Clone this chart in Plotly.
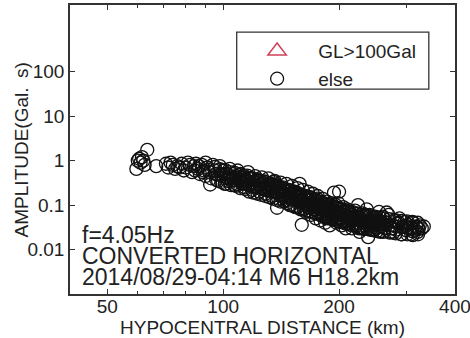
import plotly.graph_objects as go
import math

# Hypocentral distance (km) and amplitude (Gal.s)
distance = [
    60, 61, 60.5, 62, 59.5, 61.5, 63.5, 62.5, 67,
    74, 76, 78, 79, 80, 81, 83, 84, 85, 86, 87, 88, 89, 90, 90,
    91, 92, 93, 94, 95, 96, 97, 98, 99, 100, 101, 102, 103, 104, 105, 106, 107, 108, 109, 110, 92.5,
    111, 112, 113, 114, 115, 116, 117, 118, 119, 120, 121, 122, 123, 124, 125, 126, 127, 128, 129, 130,
    131, 132, 133, 134, 135, 136, 137, 138, 138, 139, 140,
    141, 142, 143, 144, 145, 146, 147, 148, 149, 150, 151, 152, 153, 154, 155, 156, 157, 158, 159, 160,
    160, 161, 162, 163, 164, 165, 166, 167, 168, 169, 170,
    171, 172, 173, 174, 175, 176, 177, 178, 179, 180, 181, 182, 183, 184, 185, 186, 187, 188, 189, 190,
    191, 192, 193, 194, 195, 196, 197, 198, 199, 200, 201, 202, 203, 204, 205, 206, 207, 208, 209, 210,
    212, 214, 216, 218, 220, 222, 224, 226, 228, 230, 232, 234, 236, 238, 238, 240, 242, 244, 246, 248,
    250, 252, 254, 256, 258, 224,
    260, 263, 266, 269, 272, 275, 278, 281, 284, 287, 290, 293, 296, 299, 302, 305, 308, 311, 314, 317,
    320, 324, 328, 332, 266, 277,
    100.5, 102.5, 104.5, 106.5, 108.5, 110.5, 112.5, 114.5, 116.5, 118.5, 120.5, 122.5, 124.5, 126.5,
    128.5, 130.5, 132.5, 134.5, 136.5, 138.5,
    140.5, 142.5, 144.5, 146.5, 148.5, 150.5, 152.5, 154.5, 156.5, 158.5, 160.5, 162.5, 164.5, 166.5,
    168.5, 170.5, 172.5, 174.5, 176.5, 178.5, 180.5, 182.5, 184.5, 186.5, 188.5, 190.5, 192.5, 194.5,
    196.5, 198.5,
    200.5, 203.5, 206.5, 209.5, 212.5, 215.5, 218.5, 221.5, 224.5, 227.5, 230.5, 233.5, 236.5, 239.5,
    242.5, 245.5, 248.5, 251.5, 254.5, 257.5,
    115.5, 125.5, 135.5, 145.5, 155.5, 165.5, 175.5, 185.5, 195.5, 205.5, 215.5, 225.5, 235.5, 245.5,
    262, 274, 286, 298, 310, 322,
    71, 72, 73, 75, 77, 82, 84.5, 86.5, 88.5, 91.5,
    95.2, 95.6, 95.9, 98.1, 98.4, 98.8, 101.2, 101.6, 101.9, 104.1, 104.3, 104.8,
    107.2, 107.5, 107.9, 110.1, 110.4, 110.8, 113.2, 113.6, 113.9, 116.1, 116.4, 116.8,
    119.2, 119.5, 119.9, 122.1, 122.4, 122.8, 125.2, 125.6, 125.9, 128.1, 128.4, 128.8,
    131.2, 131.5, 131.9, 134.1, 134.4, 134.8, 137.2, 137.6, 137.9, 140.1, 140.4, 140.8,
    143.2, 143.5, 143.9, 146.1, 146.4, 146.8, 149.2, 149.6, 149.9, 152.1, 152.4, 152.8,
    155.2, 155.5, 155.9, 158.1, 158.4, 158.8, 161.2, 161.6, 161.9, 164.1, 164.4, 164.8,
    167.2, 167.5, 167.9, 170.1, 170.4, 170.8, 173.2, 173.6, 173.9, 176.1, 176.4, 176.8,
    179.2, 179.5, 179.9, 182.1, 182.4, 182.8, 185.2, 185.6, 185.9, 188.1, 188.4, 188.8,
    191.2, 191.5, 191.9, 194.1, 194.4, 194.8, 197.2, 197.6, 197.9, 200.1, 200.4, 200.8,
    204.2, 204.5, 204.9, 208.1, 208.4, 208.8, 212.2, 212.6, 212.9, 216.1, 216.4, 216.8,
    220.2, 220.5, 220.9, 224.1, 224.4, 224.8, 228.2, 228.6, 228.9, 232.1, 232.4, 232.8,
    236.2, 236.5, 236.9, 240.1, 240.4, 240.8, 245.2, 245.6, 245.9, 250.1, 250.4, 250.8,
    255.2, 255.5, 255.9, 260.1, 260.4, 260.8, 270.2, 270.6, 270.9, 280.1, 280.4, 280.8,
    290.2, 290.5, 290.9, 300.1, 300.4, 300.8, 310.2, 310.6, 310.9, 320.1, 320.4, 320.8,
]
amplitude = [
    1.0, 0.9, 1.1, 1.0, 0.65, 1.2, 1.75, 0.8, 0.75,
    0.8, 0.75, 0.85, 0.6, 0.7, 0.9, 0.55, 0.75, 0.85, 0.65, 0.5, 0.8, 0.6, 0.9, 0.45,
    0.7, 0.55, 0.4, 0.8, 0.6, 0.5, 0.35, 0.75, 0.45, 0.6, 0.3, 0.5, 0.4, 0.65, 0.35, 0.5, 0.28, 0.45, 0.6, 0.38, 0.29,
    0.5, 0.3, 0.42, 0.25, 0.35, 0.55, 0.28, 0.4, 0.22, 0.33, 0.45, 0.26, 0.38, 0.2, 0.3, 0.42, 0.24, 0.34, 0.18, 0.28,
    0.4, 0.22, 0.3, 0.16, 0.25, 0.35, 0.2, 0.087, 0.28, 0.14, 0.22,
    0.32, 0.17, 0.25, 0.12, 0.2, 0.3, 0.15, 0.22, 0.1, 0.18, 0.27, 0.13, 0.2, 0.09, 0.16, 0.24, 0.12, 0.3, 0.08, 0.036,
    0.14, 0.22, 0.1, 0.16, 0.07, 0.13, 0.2, 0.09, 0.15, 0.06, 0.11,
    0.18, 0.08, 0.13, 0.05, 0.1, 0.16, 0.07, 0.12, 0.045, 0.09, 0.14, 0.06, 0.1, 0.04, 0.08, 0.12, 0.055, 0.09, 0.035, 0.07,
    0.11, 0.05, 0.08, 0.19, 0.06, 0.1, 0.04, 0.07, 0.11, 0.2, 0.05, 0.08, 0.035, 0.06, 0.09, 0.045, 0.07, 0.03, 0.055, 0.08,
    0.04, 0.065, 0.03, 0.05, 0.075, 0.035, 0.055, 0.025, 0.045, 0.065, 0.03, 0.05, 0.08, 0.019, 0.04, 0.06, 0.028, 0.045, 0.035, 0.055,
    0.03, 0.045, 0.07, 0.025, 0.04, 0.1,
    0.055, 0.03, 0.04, 0.06, 0.025, 0.035, 0.045, 0.028, 0.038, 0.05, 0.022, 0.032, 0.042, 0.027, 0.036, 0.03, 0.022, 0.04, 0.028, 0.033,
    0.025, 0.035, 0.03, 0.033, 0.068, 0.024,
    0.5, 0.35, 0.45, 0.4, 0.3, 0.42, 0.36, 0.3, 0.4, 0.3, 0.25, 0.35, 0.28, 0.32,
    0.25, 0.3, 0.26, 0.22, 0.28, 0.2,
    0.25, 0.2, 0.16, 0.22, 0.18, 0.14, 0.2, 0.15, 0.13, 0.16, 0.12, 0.14, 0.1, 0.13,
    0.11, 0.09, 0.12, 0.08, 0.1, 0.09, 0.07, 0.09, 0.065, 0.08, 0.06, 0.075, 0.065, 0.055,
    0.07, 0.05,
    0.065, 0.05, 0.06, 0.045, 0.055, 0.045, 0.038, 0.05, 0.04, 0.05, 0.04, 0.035, 0.045, 0.036,
    0.04, 0.05, 0.038, 0.035, 0.042, 0.033,
    0.46, 0.23, 0.33, 0.13, 0.19, 0.1, 0.14, 0.05, 0.09, 0.04, 0.06, 0.03, 0.06, 0.028,
    0.042, 0.03, 0.04, 0.034, 0.026, 0.029,
    0.85, 0.7, 0.9, 0.65, 0.7, 0.8, 0.6, 0.75, 0.55, 0.62,
    0.72, 0.5, 0.37, 0.64, 0.48, 0.33, 0.61, 0.42, 0.3, 0.55, 0.41, 0.28,
    0.53, 0.36, 0.27, 0.48, 0.35, 0.24, 0.46, 0.31, 0.23, 0.41, 0.3, 0.2,
    0.4, 0.27, 0.19, 0.37, 0.26, 0.18, 0.34, 0.25, 0.17, 0.33, 0.22, 0.16,
    0.3, 0.21, 0.15, 0.29, 0.2, 0.14, 0.26, 0.19, 0.13, 0.25, 0.17, 0.12,
    0.23, 0.17, 0.12, 0.22, 0.15, 0.11, 0.21, 0.15, 0.1, 0.19, 0.14, 0.095,
    0.18, 0.13, 0.09, 0.17, 0.12, 0.085, 0.165, 0.12, 0.08, 0.15, 0.11, 0.075,
    0.15, 0.105, 0.072, 0.14, 0.1, 0.068, 0.13, 0.094, 0.065, 0.12, 0.09, 0.062,
    0.12, 0.085, 0.058, 0.11, 0.08, 0.055, 0.105, 0.076, 0.052, 0.1, 0.073, 0.05,
    0.095, 0.07, 0.048, 0.092, 0.066, 0.046, 0.088, 0.064, 0.044, 0.085, 0.061, 0.042,
    0.08, 0.058, 0.041, 0.076, 0.055, 0.038, 0.072, 0.052, 0.036, 0.07, 0.05, 0.035,
    0.066, 0.048, 0.033, 0.064, 0.046, 0.032, 0.061, 0.044, 0.03, 0.06, 0.043, 0.029,
    0.058, 0.042, 0.029, 0.056, 0.041, 0.028, 0.055, 0.04, 0.027, 0.053, 0.039, 0.026,
    0.052, 0.038, 0.026, 0.051, 0.037, 0.025, 0.048, 0.035, 0.024, 0.046, 0.033, 0.023,
    0.044, 0.032, 0.022, 0.043, 0.031, 0.022, 0.042, 0.03, 0.021, 0.04, 0.031, 0.022,
]

x_ticks = [50, 100, 200, 400]
x_tick_labels = ["50", "100", "200", "400"]
y_ticks = [0.01, 0.1, 1, 10, 100]
y_tick_labels = ["0.01", "0.1", "1", "10", "100"]
x_limits = [40, 400]
y_limits = [0.001, 3162]

notes = ["f=4.05Hz", "CONVERTED HORIZONTAL", "2014/08/29-04:14 M6 H18.2km"]
y_title = "AMPLITUDE(Gal.\u2002s)"
x_title = "HYPOCENTRAL DISTANCE (km)"

FONT = "Liberation Sans, Arial, sans-serif"
PAD = "\u00a0" * 4

fig = go.Figure()
fig.add_trace(go.Scatter(
    x=[None], y=[None], mode="markers", name=PAD + "GL>100Gal",
    marker=dict(symbol="triangle-up-open", size=16, color="#d0405a",
                line=dict(color="#d0405a", width=1.5)),
))
fig.add_trace(go.Scatter(
    x=distance, y=amplitude, mode="markers", name=PAD + "else",
    marker=dict(symbol="circle-open", size=13, color="#111111",
                line=dict(color="#111111", width=1.3)),
))

for i, t in enumerate(notes):
    fig.add_annotation(
        text=t, xref="paper", yref="paper", x=0.026, y=0.204 - i * 0.073,
        xanchor="left", yanchor="middle", showarrow=False,
        font=dict(family=FONT, size=23, color="#222222"),
    )

fig.add_annotation(
    text=y_title, xref="paper", yref="paper", x=-0.125, y=0.5,
    xanchor="center", yanchor="middle", textangle=-90, showarrow=False,
    font=dict(family=FONT, size=19, color="#222222"),
)

fig.add_shape(type="rect", xref="paper", yref="paper",
              x0=0.433, x1=0.932, y0=0.709, y1=0.906,
              line=dict(color="#333333", width=1.3), fillcolor="rgba(0,0,0,0)")

fig.update_layout(
    width=470, height=338,
    margin=dict(l=70, r=15, t=5, b=44),
    plot_bgcolor="white", paper_bgcolor="white",
    font=dict(family=FONT, size=19, color="#222222"),
    showlegend=True,
    legend=dict(x=0.486, y=0.906, xanchor="left", yanchor="top",
                bgcolor="rgba(0,0,0,0)", borderwidth=0,
                font=dict(family=FONT, size=19, color="#222222"),
                itemsizing="trace"),
    xaxis=dict(
        type="log", range=[math.log10(x_limits[0]), math.log10(x_limits[1]) + 1e-4],
        tickvals=x_ticks, ticktext=x_tick_labels,
        ticks="inside", ticklen=5, tickcolor="#333333",
        ticklabeloverflow="allow", ticklabelstandoff=-6,
        minor=dict(ticks="inside", ticklen=3, tickcolor="#333333", tickvals=[60, 70, 80, 90, 300]),
        showline=True, linecolor="#333333", linewidth=1.5, mirror="ticks",
        showgrid=False, zeroline=False, automargin=False,
        title=dict(text=x_title, standoff=2,
                   font=dict(family=FONT, size=19, color="#222222")),
        tickfont=dict(family=FONT, size=19, color="#222222"),
    ),
    yaxis=dict(
        type="log", range=[math.log10(y_limits[0]), math.log10(y_limits[1])],
        tickvals=y_ticks, ticktext=y_tick_labels,
        ticks="inside", ticklen=5, tickcolor="#333333",
        showline=True, linecolor="#333333", linewidth=1.5, mirror="ticks",
        showgrid=False, zeroline=False, automargin=False,
        tickfont=dict(family=FONT, size=19, color="#222222"),
    ),
)

fig.write_html("out.html")
